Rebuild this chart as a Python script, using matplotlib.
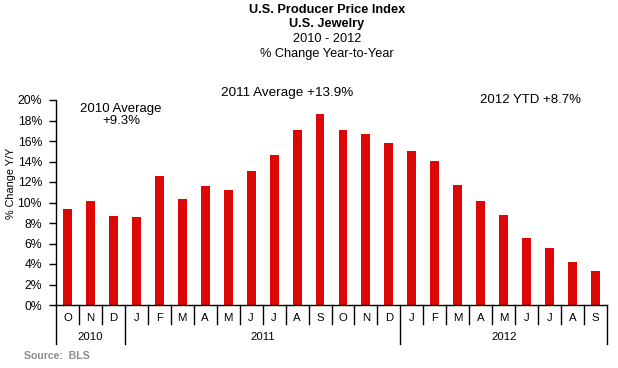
import matplotlib
matplotlib.use("Agg")
import matplotlib.pyplot as plt
from matplotlib.transforms import blended_transform_factory
import matplotlib.ticker as mticker

plt.rcParams['font.family'] = ['Liberation Sans', 'DejaVu Sans']

months = ["O", "N", "D",
          "J", "F", "M", "A", "M", "J", "J", "A", "S", "O", "N", "D",
          "J", "F", "M", "A", "M", "J", "J", "A", "S"]
years = ["2010", "2011", "2012"]
year_counts = [3, 12, 9]
values = [9.4, 10.15, 8.7,
          8.6, 12.6, 10.35, 11.6, 11.2, 13.05, 14.6, 17.05, 18.6, 17.05, 16.65, 15.8,
          15.0, 14.05, 11.7, 10.15, 8.8, 6.55, 5.55, 4.2, 3.3]
ann_2010 = "2010 Average\n+9.3%"
ann_2011 = "2011 Average +13.9%"
ann_2012 = "2012 YTD +8.7%"

W, H = 618, 368
fig = plt.figure(figsize=(W / 100, H / 100), dpi=100)
ax = fig.add_axes([56 / W, 1 - 305 / H, (607 - 56) / W, (305 - 100) / H])

x = list(range(len(values)))
ax.bar(x, values, width=0.39, color="#DD0806", zorder=2)
ax.set_xlim(-0.5, len(values) - 0.5)
ax.set_ylim(0, 20)
ax.yaxis.set_major_locator(mticker.MultipleLocator(2))
ax.yaxis.set_major_formatter(mticker.FuncFormatter(lambda v, p: f"{int(round(v))}%"))
ax.tick_params(axis="y", direction="out", length=5, width=1, pad=5, labelsize=8.8, colors="black")
ax.set_xticks([])
for s in ["top", "right"]:
    ax.spines[s].set_visible(False)
ax.spines["left"].set_linewidth(1)
ax.spines["bottom"].set_linewidth(1)
fig.text(11 / W, 1 - 183 / H, "% Change Y/Y", rotation=90, ha="center", va="center",
         fontsize=7.8)

# category axis: month and year rows
trans = blended_transform_factory(ax.transData, ax.transAxes)
px = 1 / (305 - 100)  # one pixel in axes fraction (vertical)
year_bounds = [-0.5]
for c in year_counts:
    year_bounds.append(year_bounds[-1] + c)
for i in range(len(values) + 1):
    b = i - 0.5
    depth = 39 if b in year_bounds else 19
    ax.plot([b, b], [0, -depth * px], color="black", lw=1, transform=trans, clip_on=False)
for i, m in enumerate(months):
    ax.text(i, -13 * px, m, ha="center", va="center", fontsize=8.2, transform=trans)
for k, yname in enumerate(years):
    cx = (year_bounds[k] + year_bounds[k + 1]) / 2
    ax.text(cx, -32 * px, yname, ha="center", va="center", fontsize=8.2, transform=trans)

# titles
fig.text(327 / W, 1 - 10 / H, "U.S. Producer Price Index", ha="center", va="center",
         fontsize=9.2, fontweight="bold")
fig.text(327 / W, 1 - 24 / H, "U.S. Jewelry", ha="center", va="center",
         fontsize=9.2, fontweight="bold")
fig.text(327 / W, 1 - 39 / H, "2010 - 2012", ha="center", va="center", fontsize=9.2)
fig.text(327 / W, 1 - 54 / H, "% Change Year-to-Year", ha="center", va="center", fontsize=9.2)

# annotations
fig.text(121 / W, 1 - 115 / H, ann_2010, ha="center", va="center", fontsize=9.5,
         linespacing=1.05)
fig.text(287 / W, 1 - 93 / H, ann_2011, ha="center", va="center", fontsize=9.7)
fig.text(530 / W, 1 - 100 / H, ann_2012, ha="center", va="center", fontsize=9.5)

fig.text(24 / W, 1 - 356 / H, "Source:  BLS", ha="left", va="center", fontsize=7.6,
         fontweight="bold", color="#8C8C8C")

fig.savefig("out.png", dpi=100)
